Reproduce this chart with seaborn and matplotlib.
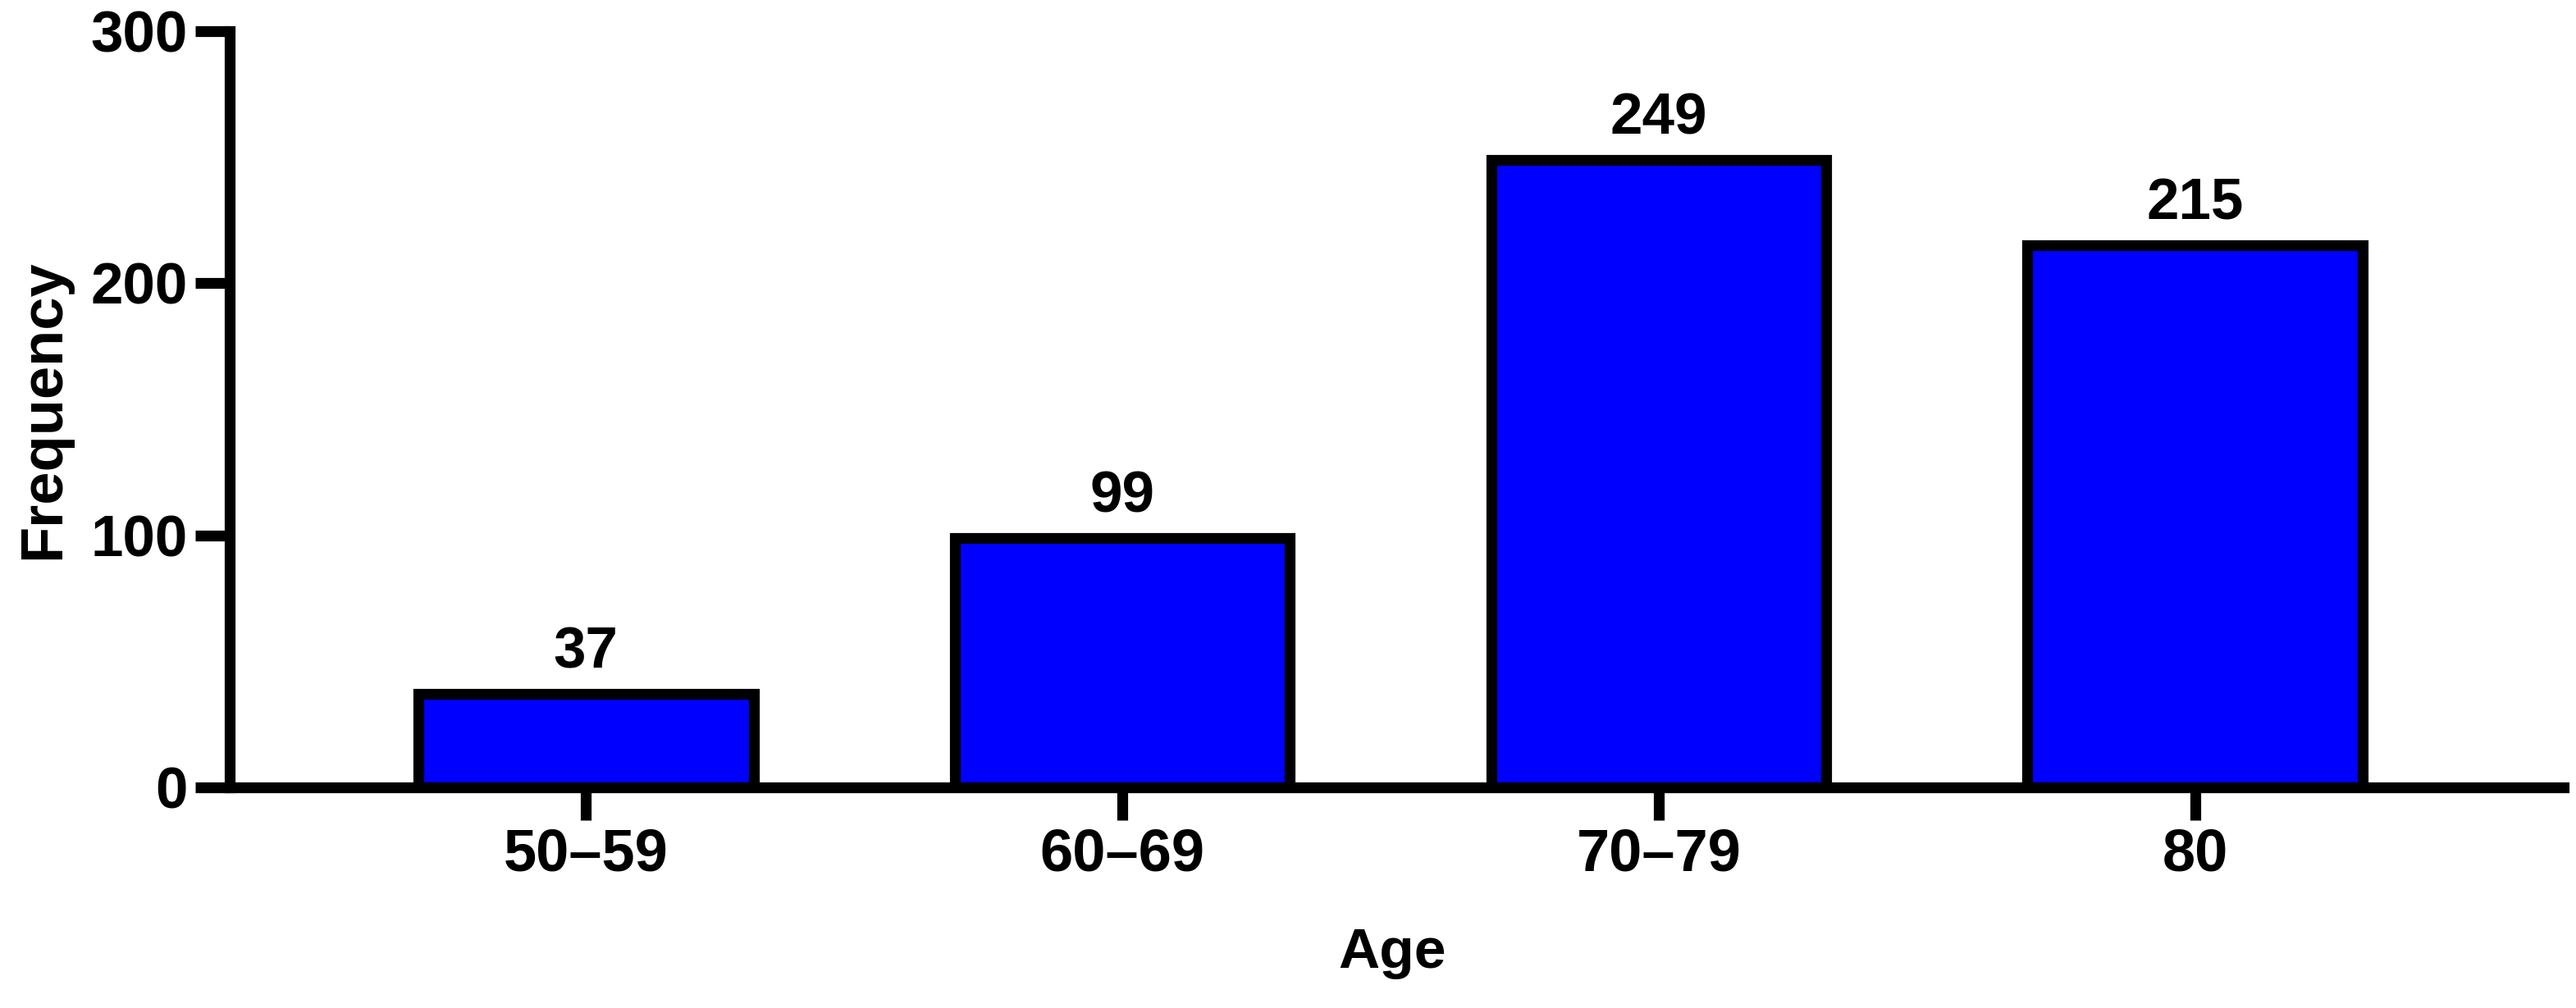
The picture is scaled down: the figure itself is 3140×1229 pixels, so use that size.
import pandas as pd
import matplotlib
matplotlib.use("Agg")
import matplotlib.pyplot as plt
import seaborn as sns

age_groups = ["50\u201359", "60\u201369", "70\u201379", "80"]
frequency = [37, 99, 249, 215]
y_ticks = [0, 100, 200, 300]

df = pd.DataFrame({"Age": age_groups, "Frequency": frequency})

sns.set_style("ticks")
plt.rcParams["font.family"] = ["Liberation Sans", "DejaVu Sans"]
for key in ["text.color", "axes.labelcolor", "xtick.color", "ytick.color", "axes.edgecolor"]:
    plt.rcParams[key] = "black"

fig = plt.figure(figsize=(31.4, 12.29), dpi=100)
ax = fig.add_axes([280 / 3140, 1 - 960 / 1229, 2845 / 3140, 922 / 1229])

sns.barplot(data=df, x="Age", y="Frequency", color="#0000FF", saturation=1,
            edgecolor="black", linewidth=9.5, width=0.625, ax=ax)

ax.bar_label(ax.containers[0], padding=12, fontsize=51, fontweight="bold")

ax.set_ylim(0, 300)
ax.set_xlim(-0.664, 3.687)
ax.set_yticks(y_ticks)
ax.set_yticklabels([str(t) for t in y_ticks], fontsize=51, fontweight="bold")
ax.set_xticks(range(len(age_groups)))
ax.set_xticklabels(age_groups, fontsize=52, fontweight="bold")

ax.set_xlabel("Age", fontsize=50, fontweight="bold")
ax.set_ylabel("Frequency", fontsize=52, fontweight="bold")
ax.xaxis.set_label_coords(0.498, -0.1844)
ax.yaxis.set_label_coords(-0.0678, 0.5)

sns.despine(ax=ax)
for side in ["left", "bottom"]:
    ax.spines[side].set_linewidth(9.5)
    ax.spines[side].set_capstyle("projecting")
ax.tick_params(axis="y", length=30, width=9.5, pad=7)
ax.tick_params(axis="x", length=29, width=9.5, pad=6)

fig.savefig("out.png", dpi=100)
